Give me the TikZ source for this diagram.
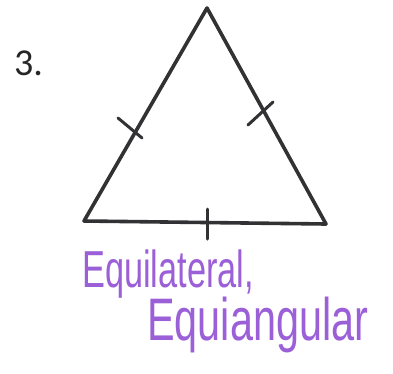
\documentclass[tikz,border=0pt]{standalone}
\usepackage{fontspec}
\setmainfont{Liberation Sans}
\newfontfamily\numfont{Carlito}
\definecolor{edge}{RGB}{50,50,52}
\definecolor{ink}{RGB}{155,95,215}
\tikzset{
  side/.style={draw=edge, line width=3.6pt, line join=round, line cap=round},
  tick/.style={draw=edge, line width=3pt, line cap=round},
  hand/.style={text=ink, inner sep=0pt, anchor=base west}
}
\begin{document}
\begin{tikzpicture}[x=1pt,y=-1pt]
\useasboundingbox (0,0) rectangle (393,373);
\fill[white] (0,0) rectangle (393,373);
\coordinate (A) at (207,8);
\coordinate (B) at (84,221);
\coordinate (C) at (326,224);
\path[side] (A) -- (B) -- (C) -- cycle;
% tick marks
\coordinate (t1a) at (118,118);
\coordinate (t1b) at (142,138);
\coordinate (t2a) at (273,102);
\coordinate (t2b) at (248,125);
\coordinate (t3a) at (207,209);
\coordinate (t3b) at (207,239);
\path[tick] (t1a) -- (t1b);
\path[tick] (t2a) -- (t2b);
\path[tick] (t3a) -- (t3b);
\node[anchor=base west, inner sep=0pt, text=black!85, font=\numfont\fontsize{38}{38}\selectfont] (num) at (14,75) {3.};
\node[hand, font=\fontsize{52}{52}\selectfont] (l1) at (82,287) {\scalebox{0.66}[1]{Equilateral,}};
\node[hand, font=\fontsize{60}{60}\selectfont] (l2) at (147,340) {\scalebox{0.69}[1]{Equiangular}};
\end{tikzpicture}
\end{document}
